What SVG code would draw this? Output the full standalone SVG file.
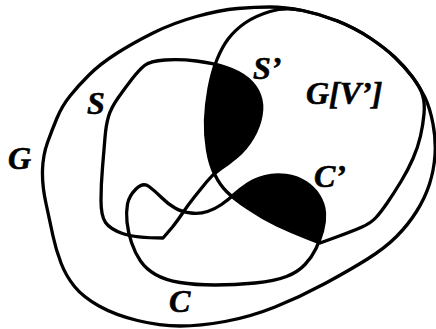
<svg xmlns="http://www.w3.org/2000/svg" width="436" height="329" viewBox="0 0 436 329">
<style>
.ln{fill:none;stroke:#000;stroke-width:3.3;stroke-linejoin:round;stroke-linecap:round}
.lb{font-family:"Liberation Serif","Times New Roman",serif;font-weight:bold;font-style:italic;font-size:32px;fill:#000;stroke:#000;stroke-width:0.6}
</style>
<defs>
<path id="pGV" d="M 270,11.5 Q 285,7 302.5,10.5 Q 320,14 337.5,21 Q 355,28 370,38 Q 385,48 395,57.5 Q 405,67 412.5,77 Q 420,87 422.5,95 Q 425,103 424,114 Q 423,125 420.5,136 Q 418,147 413,158.5 Q 408,170 401,181.5 Q 394,193 387.5,202.5 Q 381,212 376,217.5 Q 371,223 362,227 Q 353,231 336.5,237 L 320,243 L 306,237.5 Q 292,232 277,225 Q 262,218 247.5,208 Q 233,198 226.5,191.5 Q 220,185 215,175 Q 210,165 207.5,150 Q 205,135 205.5,120 Q 206,105 209,88.5 Q 212,72 217,59.5 Q 222,47 228.5,38.5 Q 235,30 245,23 Q 255,16 270,11.5 Z"/>
<path id="pS" d="M 144.5,65.5 Q 150,61 165,60 Q 180,59 196.5,61 Q 213,63 226.5,67.5 Q 240,72 248,79 Q 256,86 259.5,95 Q 263,104 261,115.5 Q 259,127 252.5,138 Q 246,149 237,156.5 Q 228,164 220.5,169 Q 213,174 206.5,182 Q 200,190 194,197.5 Q 188,205 183,212.5 Q 178,220 172.5,227 L 163,238 Q 135,238 122.5,233.5 Q 110,229 105.5,222.5 Q 101,216 101,200.5 Q 101,185 102.5,167.5 Q 104,150 105,137.5 Q 106,125 108.5,116.5 Q 111,108 118,98 Q 125,88 132,79 Q 139,70 144.5,65.5 Z"/>
<path id="pC" d="M 136,189 Q 143,182 149,186.5 Q 155,191 161.5,197.5 Q 168,204 175,208 Q 182,212 191,213 Q 200,214 207.5,211.5 Q 215,209 221.5,204.5 Q 228,200 234,194.5 Q 240,189 247.5,184 Q 255,179 265,176.5 Q 275,174 286,175.5 Q 297,177 305.5,182.5 Q 314,188 319,196 Q 324,204 324.5,213 Q 325,222 322.5,231 Q 320,240 316,248.5 Q 312,257 305,264.5 Q 298,272 286.5,276.5 Q 275,281 255,283 Q 235,285 215,285 Q 195,285 180,282.5 Q 165,280 155.5,274.5 Q 146,269 140.5,261 Q 135,253 131.5,242.5 Q 128,232 127,222 Q 126,212 127.5,204 Q 129,196 136,189 Z"/>
<clipPath id="clipGV"><use href="#pGV"/></clipPath>
</defs>
<g id="Sprime"><use href="#pS" fill="#000" clip-path="url(#clipGV)"/></g>
<g id="Cprime"><use href="#pC" fill="#000" clip-path="url(#clipGV)"/></g>
<g id="G"><path class="ln" d="M 270,7 Q 285,7 302.5,10.5 Q 320,14 337.5,21 Q 355,28 370,38 Q 385,48 395,57.5 Q 405,67 412.5,77 Q 420,87 425,97.5 Q 430,108 433,124 Q 436,140 435,155 Q 434,170 429.5,184 Q 425,198 416.5,211.5 Q 408,225 396.5,236.5 Q 385,248 367.5,259 Q 350,270 325,283.5 Q 300,297 275,307 Q 250,317 225,321.5 Q 200,326 180,326 Q 160,326 137.5,320.5 Q 115,315 99,306 Q 83,297 74.5,286.5 Q 66,276 61,263 Q 56,250 53,236 Q 50,222 46,203.5 Q 42,185 42.5,170 Q 43,155 47.5,142.5 Q 52,130 57,118 Q 62,106 70,96 Q 78,86 89,75 Q 100,64 116.5,53.5 Q 133,43 153,33 Q 173,23 196.5,16.5 Q 220,10 237.5,8.5 Q 255,7 270,7 Z"/>
<text class="lb" x="8" y="169">G</text></g>
<g id="GV"><use href="#pGV" class="ln"/><text class="lb" x="306" y="104">G[V’]</text></g>
<g id="S"><use href="#pS" class="ln"/><text class="lb" x="87" y="114">S</text><text class="lb" x="253" y="79">S’</text></g>
<g id="C"><use href="#pC" class="ln"/><text class="lb" x="169" y="312">C</text><text class="lb" x="314" y="187">C’</text></g>
</svg>
